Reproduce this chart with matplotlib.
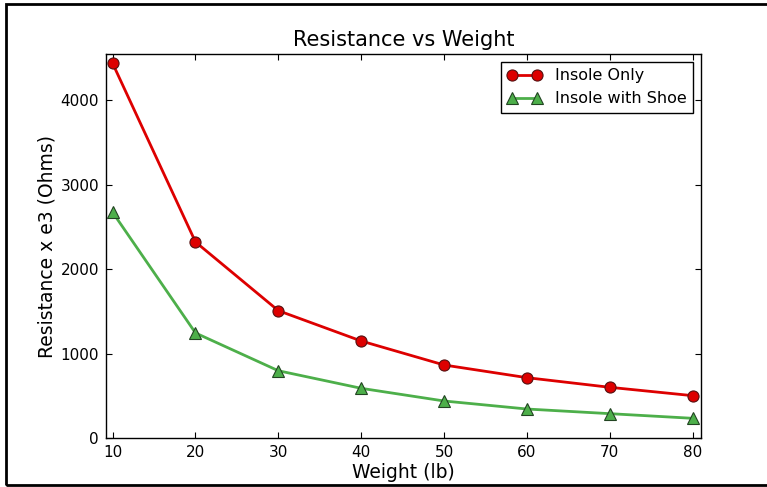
import matplotlib
matplotlib.use("Agg")
import matplotlib.pyplot as plt
from matplotlib.patches import Rectangle

weights = [10, 20, 30, 40, 50, 60, 70, 80]
insole_only = [4434, 2320, 1507, 1148, 864, 714, 600, 501]
insole_shoe = [2671, 1243, 796, 588, 438, 343, 288, 233]
xticks = [10, 20, 30, 40, 50, 60, 70, 80]
yticks = [0, 1000, 2000, 3000, 4000]

plt.rcParams['font.family'] = ['DejaVu Sans']
fig = plt.figure(figsize=(7.67, 4.87), dpi=100)
fig.patch.set_facecolor('white')
ax = fig.add_axes([106/767, 49/487, 595/767, 384/487])

ax.plot(weights, insole_only, color='#dd0000', lw=2, marker='o', ms=8,
        mfc='#dd0000', mec='#551111', mew=0.8, label='Insole Only')
ax.plot(weights, insole_shoe, color='#4daf4a', lw=2, marker='^', ms=8.5,
        mfc='#4daf4a', mec='#224422', mew=0.8, label='Insole with Shoe')

ax.set_xlim(9.2, 81)
ax.set_ylim(0, 4545)
ax.set_xticks(xticks)
ax.set_yticks(yticks)
ax.tick_params(direction='in', labelsize=11, length=4, top=True, right=True, pad=5)
for s in ax.spines.values():
    s.set_linewidth(1.0)
ax.set_title('Resistance vs Weight', fontsize=15)
ax.set_xlabel('Weight (lb)', fontsize=13.5, labelpad=2)
ax.set_ylabel('Resistance x e3 (Ohms)', fontsize=13.5, labelpad=3)
leg = ax.legend(loc='upper right', fontsize=11.5, numpoints=2, fancybox=False,
                framealpha=1, edgecolor='black', borderaxespad=0.5, handlelength=2.2)
leg.get_frame().set_linewidth(1.0)

fig.patches.append(Rectangle((6/767, 2/487), 1.2, 481/487, transform=fig.transFigure,
                             fill=False, edgecolor='black', lw=2, clip_on=False))

fig.savefig('out.png', dpi=100, facecolor='white')
